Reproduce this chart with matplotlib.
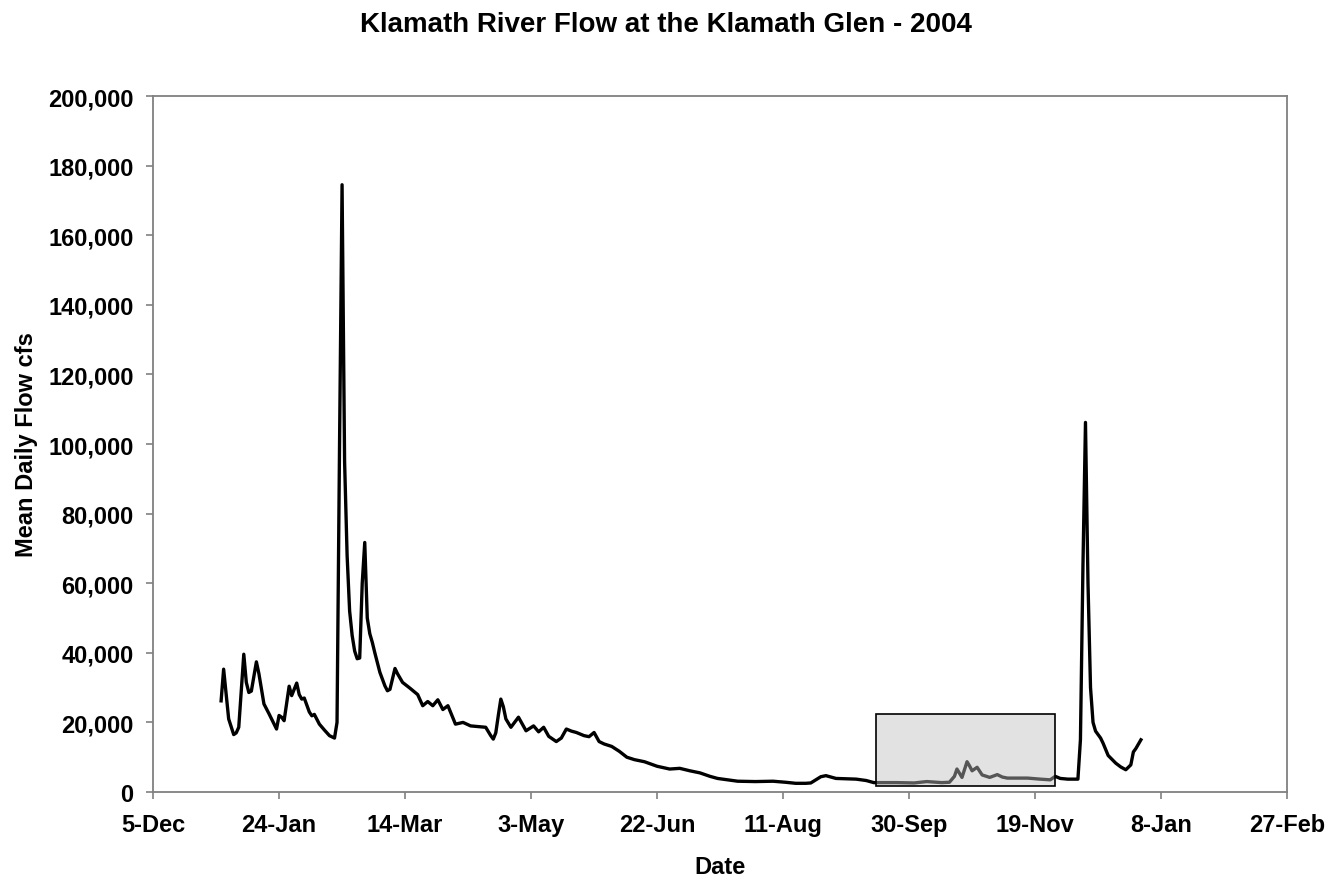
import datetime as dt

import matplotlib
matplotlib.use("Agg")
import matplotlib.pyplot as plt
import matplotlib.dates as mdates
from matplotlib.patches import Rectangle
from matplotlib.ticker import FuncFormatter

# ── data ──────────────────────────────────────────────────────────────────────
start = dt.date(2004, 1, 1)
day_of_year = [
    0, 1, 3, 5, 6, 7, 9, 10, 11, 12, 14, 15, 17, 19, 22, 23, 24, 25, 27, 28,
    30, 31, 32, 33, 35, 36, 37, 39, 41, 43, 45, 46, 47, 48, 49, 50, 51, 52, 53,
    54, 55, 56, 57, 58, 59, 60, 61, 63, 65, 66, 67, 69, 70, 72, 75, 77, 78, 80,
    82, 84, 86, 88, 90, 93, 96, 99, 102, 105, 107, 108, 109, 110, 111, 112,
    113, 115, 118, 121, 124, 126, 128, 130, 133, 135, 137, 139, 141, 144, 146,
    148, 150, 152, 155, 158, 161, 164, 168, 173, 178, 182, 186, 190, 194, 197,
    201, 205, 212, 219, 224, 228, 232, 234, 236, 238, 240, 242, 244, 248, 252,
    256, 259, 262, 268, 275, 280, 286, 289, 291, 292, 294, 296, 297, 298, 300,
    302, 305, 308, 310, 312, 316, 320, 325, 329, 331, 333, 336, 339, 340, 341,
    342, 343, 344, 345, 346, 347, 349, 350, 352, 355, 357, 359, 361, 362, 363,
    365,
]
flow_cfs = [
    26200, 35300, 21000, 16500, 17000, 18600, 39600, 31500, 28600, 29000,
    37400, 34000, 25300, 22500, 18100, 22000, 21500, 20500, 30400, 27700,
    31300, 28000, 26700, 27000, 23000, 21900, 22300, 19500, 17800, 16200,
    15500, 20000, 100000, 174500, 95000, 68000, 52000, 45000, 40500,
    38300, 38500, 60000, 71700, 50000, 45500, 43000, 40000, 34400, 30500,
    29100, 29500, 35500, 34000, 31500, 29800, 28600, 28000, 24800,
    26000, 24800, 26500, 23700, 24800, 19500, 20000, 19000, 18800, 18600,
    16200, 15200, 17000, 22000, 26700, 24500,
    21000, 18600, 21500, 17600, 19000, 17300, 18600, 16000, 14500, 15500,
    18100, 17500, 17100, 16200, 15900,
    17100, 14500, 13800, 13100, 11700, 10000, 9300, 8700, 7400, 6600, 6800,
    6100, 5500, 4500, 3900,
    3500, 3100, 3000, 3100, 2800, 2500, 2500, 2600, 3500, 4400, 4700, 4300,
    3900, 3800, 3700,
    3300, 2700, 2700, 2700, 2600, 3000, 2700, 2800, 4500, 6600, 4200, 8700,
    7500, 6100, 7100,
    4900, 4200, 5000, 4300, 4000, 4000, 4000, 3700, 3500, 4500, 3900, 3700,
    3700, 3700, 15000,
    65000, 106200, 60000, 30000, 20000, 17500, 15500, 14000, 10500, 8300,
    7200, 6400, 7800, 11500, 12500,
    15000,
]

# highlighted low-flow window (shaded box)
box_start = dt.date(2004, 9, 17)
box_end = dt.date(2004, 11, 27)
box_low, box_high = 1800, 22300

axis_start = dt.date(2003, 12, 5)
tick_step_days = 50
n_ticks = 10

# ── plot ──────────────────────────────────────────────────────────────────────
plt.rcParams["font.family"] = ["Liberation Sans", "DejaVu Sans"]
plt.rcParams["font.weight"] = "bold"

fig = plt.figure(figsize=(13.31, 8.78), dpi=100)
ax = fig.add_axes([0.115, 0.0968, 0.852, 0.7927])

dates = [start + dt.timedelta(days=d) for d in day_of_year]
x = mdates.date2num(dates)
ax.plot(x, flow_cfs, color="black", linewidth=2.4, solid_joinstyle="round",
        zorder=2)

bx0 = mdates.date2num(box_start)
bx1 = mdates.date2num(box_end)
ax.add_patch(Rectangle((bx0, box_low), bx1 - bx0, box_high - box_low,
                       facecolor="#c0c0c0", alpha=0.45, edgecolor="none",
                       zorder=3))
ax.add_patch(Rectangle((bx0, box_low), bx1 - bx0, box_high - box_low,
                       facecolor="none", edgecolor="black", linewidth=1.2,
                       zorder=4))

x0 = mdates.date2num(axis_start)
ticks = [x0 + i * tick_step_days for i in range(n_ticks)]
ax.set_xlim(ticks[0], ticks[-1])
ax.set_xticks(ticks)


def _date_label(v, pos):
    d = mdates.num2date(v)
    return f"{d.day}-{d.strftime('%b')}"


ax.xaxis.set_major_formatter(FuncFormatter(_date_label))
ax.set_ylim(0, 200000)
ax.set_yticks(range(0, 200001, 20000))
ax.yaxis.set_major_formatter(FuncFormatter(lambda v, p: f"{int(v):,}"))

for s in ax.spines.values():
    s.set_color("#808080")
    s.set_linewidth(1.3)
ax.tick_params(axis="both", direction="out", length=5, width=1.2,
               color="#808080", labelsize=17)
ax.tick_params(axis="y", pad=9)
ax.tick_params(axis="x", pad=10)

ax.set_xlabel("Date", fontsize=17, fontweight="bold", labelpad=14)
ax.set_ylabel("Mean Daily Flow cfs", fontsize=17, fontweight="bold",
              labelpad=7)
fig.text(0.5, 0.9636, "Klamath River Flow at the Klamath Glen - 2004",
         ha="center", va="baseline", fontsize=20, fontweight="bold")

fig.savefig("out.png", dpi=100)
